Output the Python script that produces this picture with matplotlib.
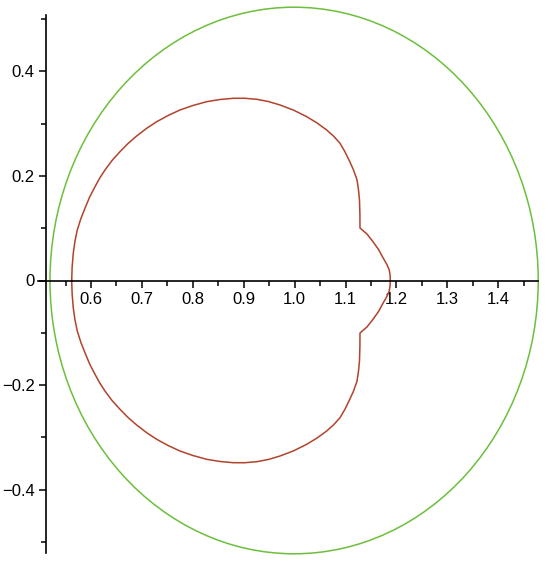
import numpy as np
import matplotlib.pyplot as plt
from matplotlib.patches import Ellipse

# upper half of the red curve (lower half is its mirror)
red_x = [0.5621, 0.5630, 0.5652, 0.5685, 0.5731, 0.5800, 0.5882, 0.5975, 0.6079,
         0.6172, 0.6275, 0.6415, 0.6570, 0.6728, 0.6898, 0.7090, 0.7291, 0.7515,
         0.7748, 0.8005, 0.8273, 0.8530, 0.8795, 0.9025, 0.9255, 0.9485, 0.9712,
         0.9980, 1.0237, 1.0440, 1.0630, 1.0768, 1.0891, 1.0985, 1.1068, 1.1155,
         1.1225, 1.1255, 1.1274, 1.1282, 1.1284, 1.1420, 1.1539, 1.1650, 1.1742,
         1.1810, 1.1859, 1.1875, 1.1879]
red_y = [0.0, 0.0260, 0.0521, 0.0750, 0.0967, 0.1180, 0.1382, 0.1600, 0.1795,
         0.1960, 0.2115, 0.2298, 0.2465, 0.2622, 0.2766, 0.2910, 0.3039, 0.3158,
         0.3263, 0.3350, 0.3422, 0.3463, 0.3487, 0.3487, 0.3468, 0.3425, 0.3359,
         0.3260, 0.3135, 0.3015, 0.2880, 0.2760, 0.2626, 0.2470, 0.2306, 0.2120,
         0.1927, 0.1730, 0.1541, 0.1270, 0.1005, 0.0890, 0.0743, 0.0590, 0.0425,
         0.0310, 0.0201, 0.0100, 0.0]

# green oval
green_center = (0.999, 0.0)
green_width = 0.959
green_height = 1.046

x_major = [0.6, 0.7, 0.8, 0.9, 1.0, 1.1, 1.2, 1.3, 1.4]
x_labels = ['0.6', '0.7', '0.8', '0.9', '1.0', '1.1', '1.2', '1.3', '1.4']
x_minor = [0.55, 0.65, 0.75, 0.85, 0.95, 1.05, 1.15, 1.25, 1.35, 1.45]
y_major = [-0.4, -0.2, 0.0, 0.2, 0.4]
y_labels = ['\u22120.4', '\u22120.2', '0', '0.2', '0.4']
y_minor = [-0.5, -0.3, -0.1, 0.1, 0.3, 0.5]

plt.rcParams['font.family'] = ['Liberation Sans', 'DejaVu Sans']

fig = plt.figure(figsize=(5.5, 5.61), dpi=100)
ax = fig.add_axes([0, 0, 1, 1])

rx = np.array(red_x + red_x[::-1][1:])
ry = np.array(red_y + [-v for v in red_y[::-1][1:]])
ax.plot(rx, ry, color='#b0432c', lw=1.1)

ax.add_patch(Ellipse(green_center, green_width, green_height, fill=False,
                     edgecolor='#6cbf3c', lw=1.1))

ax.set_xlim(0.4213, 1.5016)
ax.set_ylim(-0.5368, 0.5368)

for s in ['top', 'right']:
    ax.spines[s].set_visible(False)
ax.spines['left'].set_position(('data', 0.5116))
ax.spines['bottom'].set_position(('data', 0.0))
ax.spines['left'].set_bounds(-0.5215, 0.508)
ax.spines['bottom'].set_bounds(0.496, 1.478)
for s in ['left', 'bottom']:
    ax.spines[s].set_linewidth(1.2)

ax.set_xticks(x_major)
ax.set_xticklabels(x_labels)
ax.set_xticks(x_minor, minor=True)
ax.set_yticks(y_major)
ax.set_yticklabels(y_labels)
ax.set_yticks(y_minor, minor=True)
ax.tick_params(axis='both', which='major', length=5, width=1.1, labelsize=12,
               direction='out', pad=3)
ax.tick_params(axis='both', which='minor', length=3.5, width=1.1, direction='out')
ax.set_facecolor('white')

fig.savefig('out.png', dpi=100)
